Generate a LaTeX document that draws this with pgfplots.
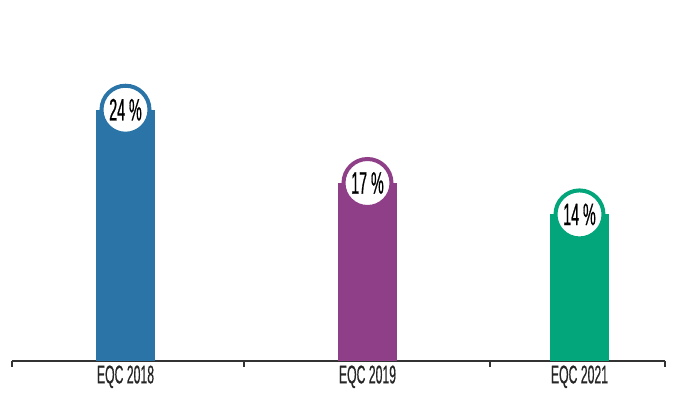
\documentclass[border=0pt]{standalone}
\usepackage{pgfplots}
\pgfplotsset{compat=1.18}
\usepackage{fontspec}
\setmainfont{Liberation Sans}
\newfontfamily\cond[FakeStretch=0.48,FakeBold=0.5]{Liberation Sans}
\newfontfamily\condb[FakeStretch=0.46,FakeBold=0.6]{Liberation Sans}
\definecolor{cblue}{HTML}{2B74A7}
\definecolor{cpurple}{HTML}{8E3F88}
\definecolor{cgreen}{HTML}{03A67A}
\definecolor{axc}{HTML}{333333}
\pgfplotstableread{
x y
125.5 24
}\tA
\pgfplotstableread{
x y
367.5 17
}\tB
\pgfplotstableread{
x y
579.5 14
}\tC
\begin{document}
\begin{tikzpicture}
\begin{axis}[
  scale only axis,
  width=653pt, height=361pt,
  xmin=12, xmax=665,
  ymin=0, ymax=34.48,
  axis x line*=bottom,
  axis y line=none,
  x axis line style={axc, line width=1.5pt},
  ytick=\empty,
  xtick={125.5,367.5,579.5},
  xticklabels={EQC 2018, EQC 2019, \raisebox{-4pt}{EQC 2021}},
  major tick length=0pt,
  xticklabel style={font=\cond\fontsize{25.5}{27}\selectfont, text=black!85, yshift=-1pt},
  extra x ticks={12,244,490,665},
  extra x tick labels={},
  extra x tick style={major tick length=6pt, tick style={axc, line width=1.5pt}, tick pos=bottom, xtick align=outside},
  ybar, bar width=59pt, bar shift=0pt,
  clip=false,
  /pgf/number format/assume math mode=true,
  nodes near coords={\pgfmathprintnumber{\pgfplotspointmeta}~\%},
  every node near coord/.append style={anchor=center, circle, fill=white, line width=4pt, minimum size=48pt, inner sep=0pt, font=\condb\fontsize{31}{33}\selectfont, text=black},
]
\addplot[fill=cblue, draw=none, every node near coord/.append style={draw=cblue}] table[x=x,y=y] {\tA};
\addplot[fill=cpurple, draw=none, every node near coord/.append style={draw=cpurple}] table[x=x,y=y] {\tB};
\addplot[fill=cgreen, draw=none, every node near coord/.append style={draw=cgreen}] table[x=x,y=y] {\tC};
\end{axis}
\useasboundingbox (-12pt,-50pt) rectangle (669pt,361pt);
\end{tikzpicture}
\end{document}
